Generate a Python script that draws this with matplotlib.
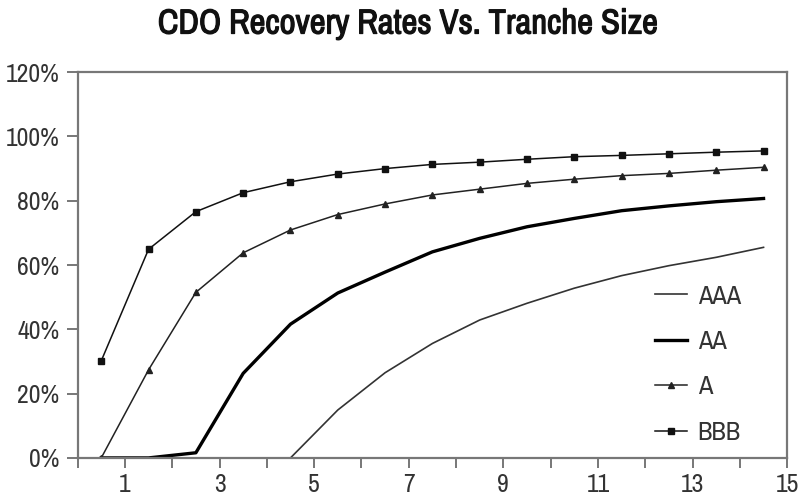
import matplotlib
matplotlib.use("Agg")
import matplotlib.pyplot as plt
import matplotlib.patheffects as pe
from matplotlib import font_manager
from matplotlib.ticker import MultipleLocator, FixedLocator

names = sorted({f.name for f in font_manager.fontManager.ttflist})
narrow = [n for n in names if "Narrow" in n or "Condensed" in n]
plt.rcParams["font.family"] = narrow[:1] + ["DejaVu Sans"]

# tranche size (mid-points) and recovery rates (%)
tranche = [0.5, 1.5, 2.5, 3.5, 4.5, 5.5, 6.5, 7.5, 8.5, 9.5, 10.5, 11.5, 12.5, 13.5, 14.5]
aaa = [0, 0, 0, 0, 0, 14.9, 26.5, 35.6, 42.9, 48.1, 52.8, 56.7, 59.8, 62.4, 65.5]
aa = [0, 0, 1.6, 26.3, 41.6, 51.3, 57.8, 64.1, 68.3, 71.9, 74.5, 76.9, 78.4, 79.7, 80.7]
a = [0, 27.4, 51.5, 63.8, 70.9, 75.7, 79.0, 81.8, 83.6, 85.4, 86.7, 87.8, 88.5, 89.5, 90.4]
bbb = [30.2, 64.9, 76.6, 82.5, 85.9, 88.3, 90.0, 91.3, 92.0, 92.9, 93.7, 94.1, 94.6, 95.1, 95.5]

xticks = [1, 3, 5, 7, 9, 11, 13, 15]
yticks = [0, 20, 40, 60, 80, 100, 120]

GRAY = "#777777"
TXT = "#333333"

fig = plt.figure(figsize=(8.0, 5.01), dpi=100)
ax = fig.add_axes([0.097, 0.086, 0.887, 0.770])

ax.plot(tranche, aaa, color="#333333", lw=1.2, label="AAA")
ax.plot(tranche, aa, color="black", lw=2.4, label="AA")
ax.plot(tranche, a, color="#222222", lw=1.1, marker="^", ms=4.5, label="A")
ax.plot(tranche, bbb, color="#111111", lw=1.1, marker="s", ms=3.8, label="BBB")

ax.set_xlim(0, 15)
ax.set_ylim(0, 120)
ax.xaxis.set_major_locator(FixedLocator(xticks))
ax.xaxis.set_minor_locator(MultipleLocator(1))
ax.set_yticks(yticks)
ax.set_yticklabels([f"{v}%" for v in yticks])

for s in ax.spines.values():
    s.set_color(GRAY)
    s.set_linewidth(1.6)
ax.tick_params(axis="both", which="both", direction="out", color=GRAY,
               width=1.4, labelcolor=TXT, labelsize=18.5)
ax.tick_params(axis="y", length=8, pad=5)
ax.tick_params(axis="x", which="both", length=7, pad=4)

ax.legend(loc="lower right", bbox_to_anchor=(0.968, -0.025), frameon=False,
          fontsize=19, handlelength=1.2, labelspacing=0.85, handletextpad=0.4,
          labelcolor=TXT)

fig.suptitle("CDO Recovery Rates Vs. Tranche Size", x=0.51, y=0.985,
             fontsize=25, fontweight="bold", color="#111111",
             path_effects=[pe.withStroke(linewidth=0.9, foreground="#111111")])

fig.savefig("out.png", dpi=100, facecolor="white")
